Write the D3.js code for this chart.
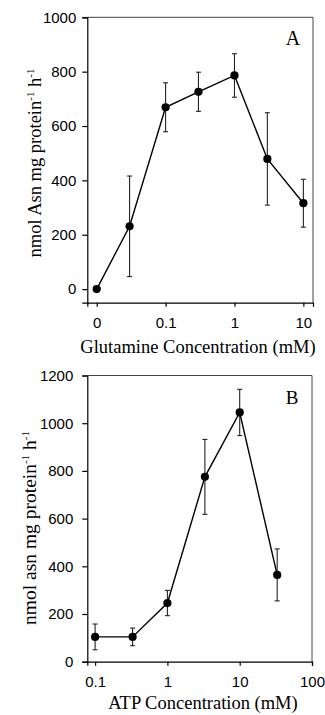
<!DOCTYPE html>
<html>
<head>
<meta charset="utf-8">
<script src="https://cdn.jsdelivr.net/npm/d3@7"></script>
<style>
  body { margin: 0; background: #fff; }
  svg { display: block; font-family: "Liberation Serif", "Times New Roman", serif; }
  .tick text { font-size: 15px; fill: #000; }
  .domain, .tick line { stroke: #000; }
</style>
</head>
<body>
<svg id="fig" width="325" height="715"></svg>
<script>
// panel A : glutamine
var glnConc = [0, 0.03, 0.1, 0.3, 1, 3, 10];
var glnMean = [0, 231, 669, 726, 786, 479, 316];
var glnErr  = [0, 185, 90, 72, 80, 170, 88];
var glnXTicks = [0, 0.1, 1, 10];
var glnYTicks = [0, 200, 400, 600, 800, 1000];

// panel B : ATP
var atpConc = [0.1, 0.33, 1, 3.3, 10, 33];
var atpMean = [104, 104, 246, 775, 1045, 364];
var atpErr  = [54, 37, 53, 157, 97, 109];
var atpXTicks = [0.1, 1, 10, 100];
var atpYTicks = [0, 200, 400, 600, 800, 1000, 1200];

var svg = d3.select("#fig");

function drawPanel(p){
  var g = svg.append("g");

  // "0" concentration sits one decade below 0.1 on the log axis
  var xv = function(c){ return c === 0 ? 0.01 : c; };

  var x = d3.scaleLog().domain(p.xDomain).range([p.left, p.right]);
  var y = d3.scaleLinear().domain(p.yDomain).range([p.bottom, p.top]);

  var data = p.conc.map(function(c, i){
    return {x: xv(c), m: p.mean[i], e: p.err[i]};
  });

  // frame top / right
  g.append("path")
    .attr("d", "M" + p.left + "," + p.top + "H" + p.right + "V" + p.bottom)
    .attr("fill", "none")
    .attr("stroke", "#444")
    .attr("stroke-width", 1);

  g.append("g")
    .attr("transform", "translate(0," + p.bottom + ")")
    .call(d3.axisBottom(x)
      .tickValues(p.xTicks.map(xv))
      .tickSize(4).tickPadding(11)
      .tickFormat(function(d){ return d === 0.01 && p.conc[0] === 0 ? "0" : d3.format("~g")(d); }))
    .call(function(a){ a.selectAll("path, line").attr("stroke-width", 1.2); });

  g.append("g")
    .attr("transform", "translate(" + p.left + ",0)")
    .call(d3.axisLeft(y)
      .tickValues(p.yTicks)
      .tickSize(5).tickPadding(p.yPad)
      .tickFormat(d3.format("d")))
    .call(function(a){ a.selectAll("path, line").attr("stroke-width", 1.2); });

  // error bars
  var eb = g.append("g").attr("stroke", "#222").attr("stroke-width", 1.1);
  eb.selectAll("line.v").data(data.filter(function(d){ return d.e > 0; }))
    .enter().append("line")
    .attr("x1", function(d){ return x(d.x); })
    .attr("x2", function(d){ return x(d.x); })
    .attr("y1", function(d){ return y(d.m + d.e); })
    .attr("y2", function(d){ return y(d.m - d.e); });
  [1, -1].forEach(function(s){
    eb.selectAll(null).data(data.filter(function(d){ return d.e > 0; }))
      .enter().append("line")
      .attr("x1", function(d){ return x(d.x) - 2.5; })
      .attr("x2", function(d){ return x(d.x) + 2.5; })
      .attr("y1", function(d){ return y(d.m + s * d.e); })
      .attr("y2", function(d){ return y(d.m + s * d.e); });
  });

  g.append("path")
    .datum(data)
    .attr("fill", "none")
    .attr("stroke", "#000")
    .attr("stroke-width", 1.4)
    .attr("d", d3.line().x(function(d){ return x(d.x); }).y(function(d){ return y(d.m); }));

  g.selectAll("circle").data(data)
    .enter().append("circle")
    .attr("cx", function(d){ return x(d.x); })
    .attr("cy", function(d){ return y(d.m); })
    .attr("r", 4.1)
    .attr("fill", "#000");

  // panel letter
  g.append("text")
    .attr("x", p.letterX).attr("y", p.letterY)
    .attr("text-anchor", "middle")
    .style("font-size", p.letterSize + "px")
    .text(p.letter);

  // x title
  g.append("text")
    .attr("x", p.xTitleX).attr("y", p.xTitleY)
    .attr("text-anchor", "middle")
    .style("font-size", "18.5px")
    .text(p.xTitle);

  // y title with superscripts
  var yt = g.append("text")
    .attr("transform", "translate(" + p.yTitleX + "," + p.yTitleY + ") rotate(-90)")
    .attr("text-anchor", "middle")
    .style("font-size", p.yTitleSize + "px");
  yt.append("tspan").text(p.yTitle + " protein");
  yt.append("tspan").attr("dy", -7).style("font-size", "11px").text("-1");
  yt.append("tspan").attr("dy", 7).text(" h");
  yt.append("tspan").attr("dy", -7).style("font-size", "11px").text("-1");
}

drawPanel({
  conc: glnConc, mean: glnMean, err: glnErr,
  xTicks: glnXTicks, yTicks: glnYTicks,
  xDomain: [0.0073, 13.8], yDomain: [-50, 1000],
  left: 87.3, right: 313, top: 17.3, bottom: 302.7, yPad: 6,
  letter: "A", letterX: 293, letterY: 45, letterSize: 20,
  xTitle: "Glutamine Concentration (mM)", xTitleX: 198, xTitleY: 353,
  yTitle: "nmol Asn mg", yTitleX: 41, yTitleY: 163, yTitleSize: 18.5
});

drawPanel({
  conc: atpConc, mean: atpMean, err: atpErr,
  xTicks: atpXTicks, yTicks: atpYTicks,
  xDomain: [0.078, 100], yDomain: [0, 1200],
  left: 87.3, right: 312, top: 375.5, bottom: 661.7, yPad: 9,
  letter: "B", letterX: 292, letterY: 404, letterSize: 19,
  xTitle: "ATP Concentration (mM)", xTitleX: 203, xTitleY: 709,
  yTitle: "nmol asn mg", yTitleX: 36, yTitleY: 528, yTitleSize: 19.5
});
</script>
</body>
</html>
